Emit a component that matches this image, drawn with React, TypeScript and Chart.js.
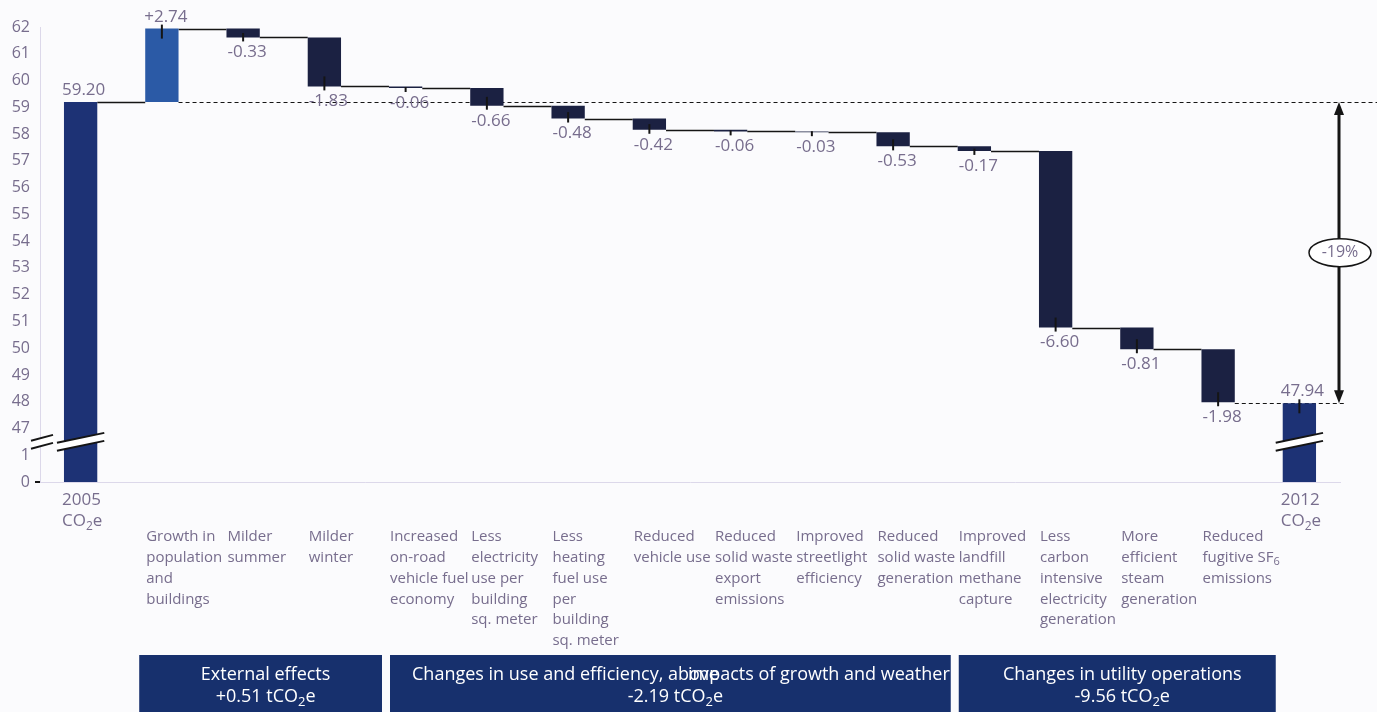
import React, { useEffect, useRef } from "react";
import { Chart, registerables } from "chart.js";

Chart.register(...registerables);

// ---- data -----------------------------------------------------------------
const categoryLines: string[][] = [
  ["2005", "CO_2e"],
  ["Growth in", "population", "and", "buildings"],
  ["Milder", "summer"],
  ["Milder", "winter"],
  ["Increased", "on-road", "vehicle fuel", "economy"],
  ["Less", "electricity", "use per", "building", "sq. meter"],
  ["Less", "heating", "fuel use", "per", "building", "sq. meter"],
  ["Reduced", "vehicle use"],
  ["Reduced", "solid waste", "export", "emissions"],
  ["Improved", "streetlight", "efficiency"],
  ["Reduced", "solid waste", "generation"],
  ["Improved", "landfill", "methane", "capture"],
  ["Less", "carbon", "intensive", "electricity", "generation"],
  ["More", "efficient", "steam", "generation"],
  ["Reduced", "fugitive SF_6", "emissions"],
  ["2012", "CO_2e"],
];

const startValue = 59.2; // 2005 total
const changes = [2.74, -0.33, -1.83, -0.06, -0.66, -0.48, -0.42, -0.06, -0.03, -0.53, -0.17, -6.6, -0.81, -1.98];
const endValue = 47.94; // 2012 total

// broken axis: 45 and 46 stand for 0 and 1
const axisMin = 45;
const axisMax = 62;
const brokenTickLabels: Record<number, string> = { 45: "0", 46: "1" };
const breakValue = 46.5;

const bandRanges: [number, number][] = [
  [1, 3],
  [4, 10],
  [11, 14],
];
const bandTitles: string[][] = [
  ["External effects"],
  ["Changes in use and efficiency, above", "impacts of growth and weather"],
  ["Changes in utility operations"],
];
const bandTotals = ["+0.51", "-2.19", "-9.56"];

// ---- styling --------------------------------------------------------------
const FONT = '"Open Sans", "DejaVu Sans", sans-serif';
const TEXT = "#776d8d";
const TOTAL_COLOR = "#1d3275";
const RISE_COLOR = "#2b5aa6";
const FALL_COLOR = "#1b2142";
const BAND_COLOR = "#17306d";
const AXIS_COLOR = "#dcd8ea";
const INK = "#151515";

// floating bars built from the series above
const barRanges: [number, number][] = [];
const barEnds: number[] = [];
barRanges.push([axisMin, startValue]);
barEnds.push(startValue);
{
  let run = startValue;
  for (const c of changes) {
    const next = Math.round((run + c) * 100) / 100;
    barRanges.push([run, next]);
    barEnds.push(next);
    run = next;
  }
}
barRanges.push([axisMin, endValue]);
barEnds.push(endValue);

const barColors = barRanges.map((_, i) =>
  i === 0 || i === barRanges.length - 1 ? TOTAL_COLOR : changes[i - 1] > 0 ? RISE_COLOR : FALL_COLOR
);

const fmtChange = (v: number) => (v > 0 ? "+" : "-") + Math.abs(v).toFixed(2);
const pctChange = Math.round(((endValue - startValue) / startValue) * 100);

// text with "_x" meaning subscript x
function drawRich(
  ctx: CanvasRenderingContext2D,
  text: string,
  x: number,
  y: number,
  size: number,
  color: string,
  align: "left" | "center" | "right"
) {
  const parts: { t: string; sub: boolean }[] = [];
  let buf = "";
  for (let i = 0; i < text.length; i++) {
    if (text[i] === "_" && i + 1 < text.length) {
      if (buf) parts.push({ t: buf, sub: false });
      buf = "";
      parts.push({ t: text[i + 1], sub: true });
      i++;
    } else buf += text[i];
  }
  if (buf) parts.push({ t: buf, sub: false });
  const subSize = Math.round(size * 0.72);
  const widths = parts.map((p) => {
    ctx.font = `${p.sub ? subSize : size}px ${FONT}`;
    return ctx.measureText(p.t).width;
  });
  const total = widths.reduce((a, b) => a + b, 0);
  let cx = align === "left" ? x : align === "center" ? x - total / 2 : x - total;
  ctx.fillStyle = color;
  ctx.textAlign = "left";
  ctx.textBaseline = "middle";
  parts.forEach((p, i) => {
    ctx.font = `${p.sub ? subSize : size}px ${FONT}`;
    ctx.fillText(p.t, cx, p.sub ? y + size * 0.3 : y);
    cx += widths[i];
  });
}

function line(ctx: CanvasRenderingContext2D, x1: number, y1: number, x2: number, y2: number) {
  ctx.beginPath();
  ctx.moveTo(x1, y1);
  ctx.lineTo(x2, y2);
  ctx.stroke();
}

function drawBreak(ctx: CanvasRenderingContext2D, cx: number, hw: number, cy: number, slope: number) {
  const gap = 4;
  const yAt = (x: number, off: number) => cy + off - slope * (x - cx);
  const l = cx - hw;
  const r = cx + hw;
  ctx.save();
  ctx.fillStyle = "#ffffff";
  ctx.beginPath();
  ctx.moveTo(l, yAt(l, -gap));
  ctx.lineTo(r, yAt(r, -gap));
  ctx.lineTo(r, yAt(r, gap));
  ctx.lineTo(l, yAt(l, gap));
  ctx.closePath();
  ctx.fill();
  ctx.strokeStyle = INK;
  ctx.lineWidth = 2;
  line(ctx, l, yAt(l, -gap), r, yAt(r, -gap));
  line(ctx, l, yAt(l, gap), r, yAt(r, gap));
  ctx.restore();
}

const waterfallDecor = {
  id: "waterfallDecor",
  beforeDraw(chart: any) {
    const ctx = chart.ctx as CanvasRenderingContext2D;
    ctx.save();
    ctx.fillStyle = "#fbfbfd";
    ctx.fillRect(0, 0, chart.width, chart.height);
    ctx.restore();
  },
  beforeDatasetsDraw(chart: any) {
    const ctx = chart.ctx as CanvasRenderingContext2D;
    const ys = chart.scales.y;
    const bars = chart.getDatasetMeta(0).data as any[];
    const n = bars.length;
    const w = bars[0].width;
    ctx.save();
    ctx.strokeStyle = INK;
    ctx.lineWidth = 1.5;
    // step connectors
    for (let i = 0; i < n - 2; i++) {
      const py = Math.round(ys.getPixelForValue(barEnds[i])) + 0.5;
      line(ctx, bars[i].x + w / 2, py, bars[i + 1].x - w / 2, py);
    }
    // reference levels
    const arrowX = chart.chartArea.right - 1;
    ctx.lineWidth = 1;
    ctx.setLineDash([4, 3]);
    const yStart = Math.round(ys.getPixelForValue(startValue)) + 0.5;
    line(ctx, bars[1].x + w / 2, yStart, chart.width, yStart);
    const yEnd = Math.round(ys.getPixelForValue(endValue)) + 0.5;
    line(ctx, bars[n - 2].x + w / 2, yEnd, arrowX + 6, yEnd);
    ctx.restore();
  },
  afterDatasetsDraw(chart: any) {
    const ctx = chart.ctx as CanvasRenderingContext2D;
    const ys = chart.scales.y;
    const area = chart.chartArea;
    const bars = chart.getDatasetMeta(0).data as any[];
    const n = bars.length;
    const w = bars[0].width;
    const catW = bars[1].x - bars[0].x;

    ctx.save();
    // end-value markers on each bar
    ctx.strokeStyle = INK;
    ctx.lineWidth = 2;
    for (let i = 1; i < n; i++) {
      const rising = i === n - 1 || changes[i - 1] > 0;
      const py = ys.getPixelForValue(barEnds[i]);
      const h = Math.abs(ys.getPixelForValue(barRanges[i][0]) - py);
      const inward = Math.max(1, Math.min(10, h / 2));
      if (rising) line(ctx, bars[i].x, py - 4, bars[i].x, py + inward);
      else line(ctx, bars[i].x, py - inward, bars[i].x, py + 4);
    }

    // "0" tick mark
    line(ctx, area.left - 5, area.bottom, area.left, area.bottom);

    // axis breaks
    const by = ys.getPixelForValue(breakValue);
    drawBreak(ctx, area.left + 2, 11, by, 0.27);
    drawBreak(ctx, bars[0].x, w / 2 + 7, by, 0.21);
    drawBreak(ctx, bars[n - 1].x, w / 2 + 7, by, 0.21);

    // value labels
    for (let i = 0; i < n; i++) {
      const py = ys.getPixelForValue(barEnds[i]);
      if (i === 0 || i === n - 1) {
        drawRich(ctx, barEnds[i].toFixed(2), bars[i].x + 3, py - 12, 17, TEXT, "center");
      } else {
        const c = changes[i - 1];
        if (c > 0) drawRich(ctx, fmtChange(c), bars[i].x + 4, py - 11, 17, TEXT, "center");
        else drawRich(ctx, fmtChange(c), bars[i].x + 4, py + 15, 17, TEXT, "center");
      }
    }

    // category labels
    for (let i = 0; i < n; i++) {
      const lines = categoryLines[i];
      const total = i === 0 || i === n - 1;
      const x = total ? bars[i].x - w / 2 - 2 : bars[i].x - w / 2 + 1;
      const y0 = total ? area.bottom + 18 : area.bottom + 55;
      const step = total ? 21 : 20.8;
      lines.forEach((t, k) => drawRich(ctx, t, x, y0 + k * step, total ? 17 : 15, TEXT, "left"));
    }

    // group bands
    let prevRight = 0;
    bandRanges.forEach(([a, b], gi) => {
      const left = gi === 0 ? bars[a].x - w / 2 - 6 : prevRight + 8;
      const right = bars[b].x + catW / 2 + 17;
      prevRight = right;
      const top = area.bottom + 173;
      ctx.fillStyle = BAND_COLOR;
      ctx.fillRect(left, top, right - left, chart.height - top);
      const mid = (left + right) / 2 + 5;
      const titles = bandTitles[gi];
      if (titles.length === 1) {
        drawRich(ctx, titles[0], mid, top + 20, 18, "#ffffff", "center");
      } else {
        drawRich(ctx, titles[0], left + 22, top + 20, 18, "#ffffff", "left");
        drawRich(ctx, titles[1], right - 1, top + 20, 18, "#ffffff", "right");
      }
      drawRich(ctx, bandTotals[gi] + " tCO_2e", mid, top + 42, 18, "#ffffff", "center");
    });

    // overall change arrow
    const ax = area.right - 1;
    const yTop = ys.getPixelForValue(startValue);
    const yBot = ys.getPixelForValue(endValue);
    ctx.strokeStyle = INK;
    ctx.fillStyle = INK;
    ctx.lineWidth = 3;
    line(ctx, ax, yTop + 8, ax, yBot - 8);
    ctx.beginPath();
    ctx.moveTo(ax, yTop);
    ctx.lineTo(ax - 5, yTop + 13);
    ctx.lineTo(ax + 5, yTop + 13);
    ctx.closePath();
    ctx.fill();
    ctx.beginPath();
    ctx.moveTo(ax, yBot);
    ctx.lineTo(ax - 5, yBot - 13);
    ctx.lineTo(ax + 5, yBot - 13);
    ctx.closePath();
    ctx.fill();
    const ey = (yTop + yBot) / 2;
    ctx.beginPath();
    ctx.ellipse(ax + 1, ey, 31, 14, 0, 0, Math.PI * 2);
    ctx.fillStyle = "#ffffff";
    ctx.fill();
    ctx.lineWidth = 1.5;
    ctx.stroke();
    drawRich(ctx, `${pctChange}%`, ax + 1, ey, 16, TEXT, "center");
    ctx.restore();
  },
};

export default function App() {
  const canvasRef = useRef<HTMLCanvasElement | null>(null);

  useEffect(() => {
    document.body.style.margin = "0";
    let chart: Chart | null = null;
    let cancelled = false;
    const build = () => {
      if (cancelled || !canvasRef.current) return;
      Chart.defaults.font.family = FONT;
      chart = new Chart(canvasRef.current, {
        type: "bar",
        data: {
          labels: categoryLines.map((l) => l.join(" ").replace(/_/g, "")),
          datasets: [
            {
              data: barRanges as any,
              backgroundColor: barColors,
              borderWidth: 0,
              barPercentage: 0.41,
              categoryPercentage: 1,
            },
          ],
        },
        options: {
          responsive: false,
          animation: false,
          layout: { padding: { top: 27, bottom: 230, right: 37, left: 0 } },
          plugins: { legend: { display: false }, tooltip: { enabled: false } },
          scales: {
            x: {
              offset: true,
              grid: { display: false, drawTicks: false },
              ticks: { display: false },
              border: { color: AXIS_COLOR, width: 1 },
            },
            y: {
              min: axisMin,
              max: axisMax,
              afterFit: (scale: any) => {
                scale.width = 40;
              },
              grid: { display: false, drawTicks: false },
              border: { color: AXIS_COLOR, width: 1 },
              ticks: {
                stepSize: 1,
                padding: 10,
                color: TEXT,
                font: { size: 16, family: FONT },
                callback: (v: any) => brokenTickLabels[v as number] ?? String(v),
              },
            },
          },
        },
        plugins: [waterfallDecor],
      });
    };
    const fontsReady = (document as any).fonts?.load
      ? Promise.all([
          (document as any).fonts.load(`16px "Open Sans"`),
          (document as any).fonts.load(`14px "Open Sans"`),
        ]).catch(() => null)
      : Promise.resolve(null);
    fontsReady.then(build);
    return () => {
      cancelled = true;
      if (chart) chart.destroy();
    };
  }, []);

  return (
    <div style={{ width: 1377, height: 712 }}>
      <canvas ref={canvasRef} width={1377} height={712} style={{ display: "block" }} />
    </div>
  );
}
